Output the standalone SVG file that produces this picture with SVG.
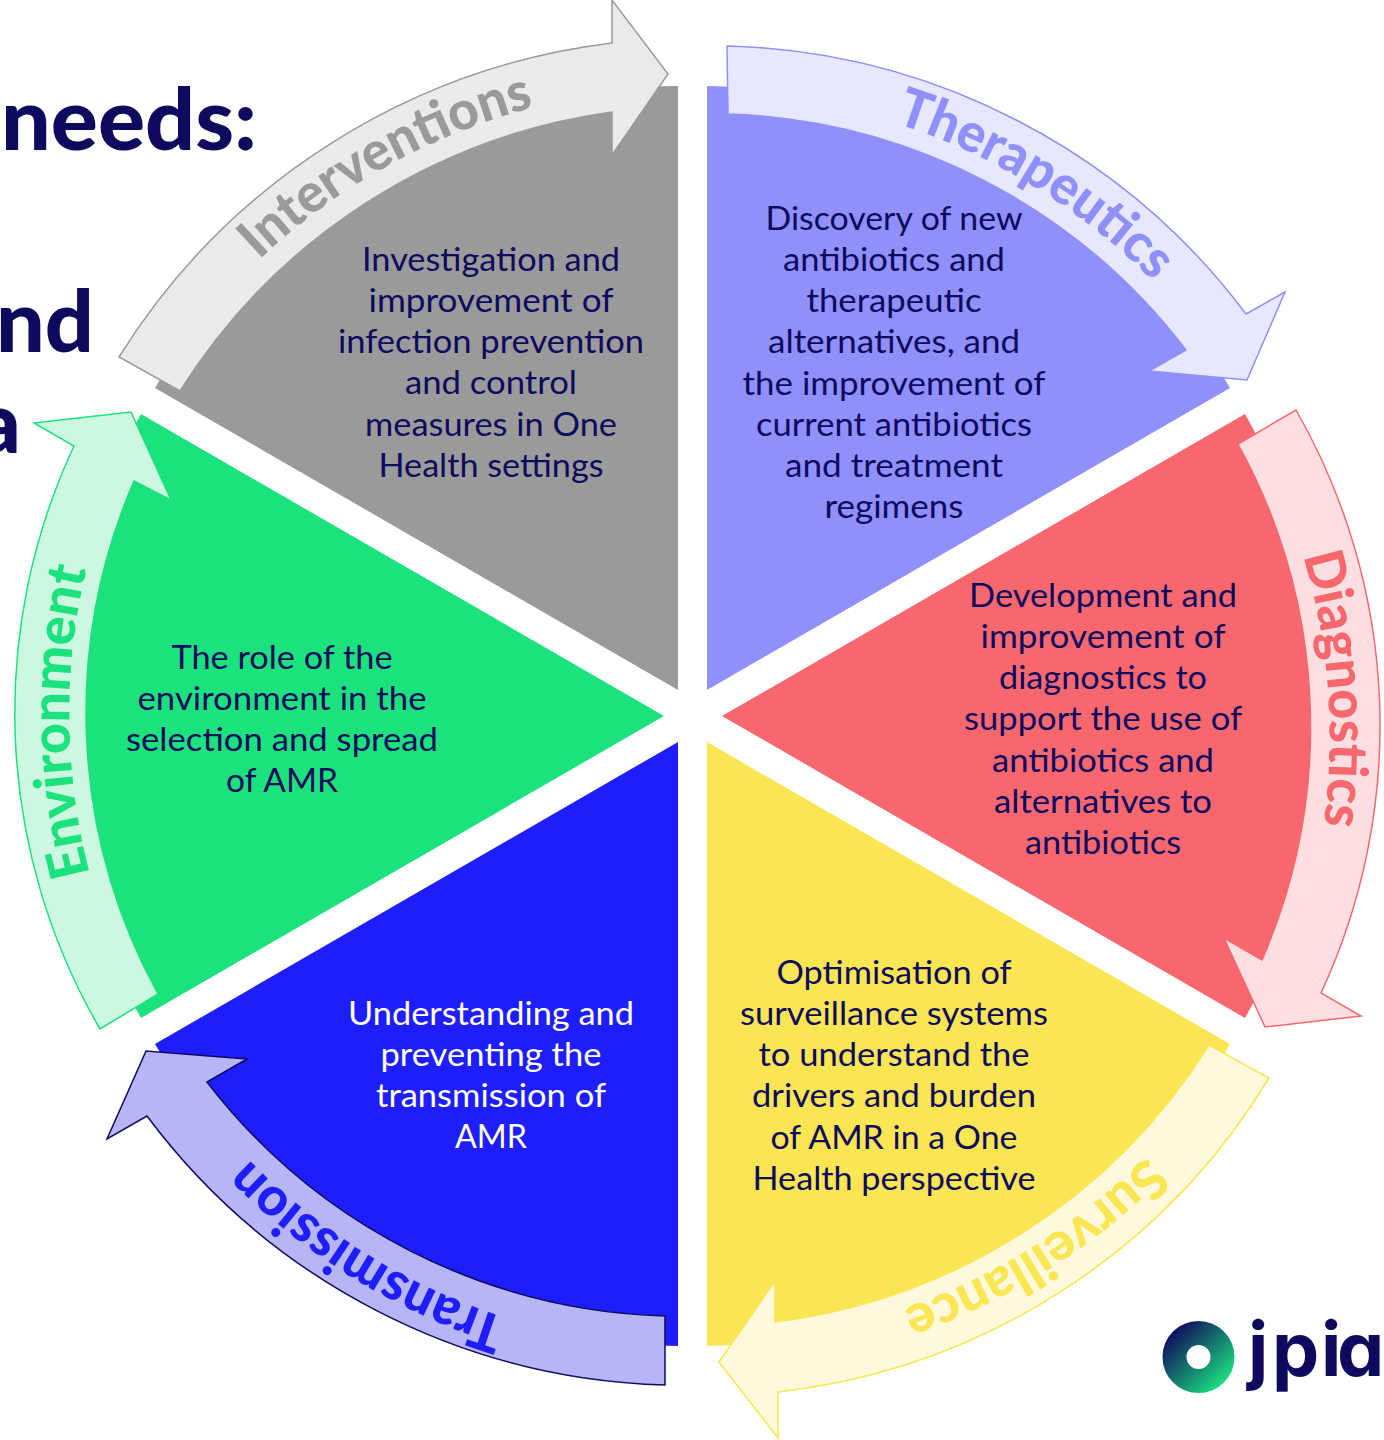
<svg xmlns="http://www.w3.org/2000/svg" width="1384" height="1440" viewBox="0 0 1384 1440">
<style>
.b{font-family:Lato,"Liberation Sans",sans-serif;font-size:32px;fill:#0e0a5e;text-anchor:middle}
.w{fill:#fff}
.l{font-family:Lato,"Liberation Sans",sans-serif;font-size:54px;font-weight:900}
.t{font-family:Lato,"Liberation Sans",sans-serif;font-size:86px;font-weight:900;fill:#0e0a5e}
.ar{stroke-width:1.5;stroke-linejoin:miter}
</style>
<defs>
<linearGradient id="lg" gradientUnits="userSpaceOnUse" x1="1172" y1="1330" x2="1225" y2="1384"><stop offset="0" stop-color="#0e0a5e"/><stop offset="1" stop-color="#1ce27e"/></linearGradient>
<path id="p1" d="M259,260 A629 629 0 0 1 548,104"/>
<path id="p2" d="M895,123 A632 632 0 0 1 1168,297"/>
<path id="p3" d="M1303,556 A630 630 0 0 1 1322,835"/>
<path id="p4" d="M1146,1156 A630 630 0 0 1 890,1313"/>
<path id="p5" d="M507,1318 A626 626 0 0 1 235,1145"/>
<path id="p6" d="M90,874 A625 625 0 0 1 90,555"/>
</defs>
<rect width="1384" height="1440" fill="#fff"/>
<g id="title">
<text class="t" x="1" y="150" textLength="256" lengthAdjust="spacingAndGlyphs">needs:</text>
<text class="t" x="-4" y="352" textLength="98" lengthAdjust="spacingAndGlyphs">nd</text>
<text class="t" x="-24" y="453" textLength="45" lengthAdjust="spacingAndGlyphs">a</text>
</g>
<g id="node-interventions">
<path fill="#9a9a9a" d="M678,690 L678,86 A604 604 0 0 0 155,388 Z"/>
<text class="b" x="491" y="271" textLength="258" lengthAdjust="spacingAndGlyphs">Investigation and</text>
<text class="b" x="491" y="312" textLength="245" lengthAdjust="spacingAndGlyphs">improvement of</text>
<text class="b" x="491" y="353" textLength="306" lengthAdjust="spacingAndGlyphs">infection prevention</text>
<text class="b" x="491" y="394" textLength="172" lengthAdjust="spacingAndGlyphs">and control</text>
<text class="b" x="491" y="436" textLength="252" lengthAdjust="spacingAndGlyphs">measures in One</text>
<text class="b" x="491" y="477" textLength="225" lengthAdjust="spacingAndGlyphs">Health settings</text>
</g>
<g id="node-therapeutics">
<path fill="#9090fb" d="M707,690 L707,86 A604 604 0 0 1 1230,388 Z"/>
<text class="b" x="894" y="230" textLength="257" lengthAdjust="spacingAndGlyphs">Discovery of new</text>
<text class="b" x="894" y="271" textLength="222" lengthAdjust="spacingAndGlyphs">antibiotics and</text>
<text class="b" x="894" y="312" textLength="175" lengthAdjust="spacingAndGlyphs">therapeutic</text>
<text class="b" x="894" y="353" textLength="252" lengthAdjust="spacingAndGlyphs">alternatives, and</text>
<text class="b" x="894" y="395" textLength="303" lengthAdjust="spacingAndGlyphs">the improvement of</text>
<text class="b" x="894" y="436" textLength="276" lengthAdjust="spacingAndGlyphs">current antibiotics</text>
<text class="b" x="894" y="477" textLength="218" lengthAdjust="spacingAndGlyphs">and treatment</text>
<text class="b" x="894" y="518" textLength="139" lengthAdjust="spacingAndGlyphs">regimens</text>
</g>
<g id="node-diagnostics">
<path fill="#f7686e" d="M722,716 L1245,414 A604 604 0 0 1 1245,1018 Z"/>
<text class="b" x="1103" y="607" textLength="268" lengthAdjust="spacingAndGlyphs">Development and</text>
<text class="b" x="1103" y="648" textLength="245" lengthAdjust="spacingAndGlyphs">improvement of</text>
<text class="b" x="1103" y="689" textLength="208" lengthAdjust="spacingAndGlyphs">diagnostics to</text>
<text class="b" x="1103" y="730" textLength="278" lengthAdjust="spacingAndGlyphs">support the use of</text>
<text class="b" x="1103" y="772" textLength="222" lengthAdjust="spacingAndGlyphs">antibiotics and</text>
<text class="b" x="1103" y="813" textLength="218" lengthAdjust="spacingAndGlyphs">alternatives to</text>
<text class="b" x="1103" y="854" textLength="156" lengthAdjust="spacingAndGlyphs">antibiotics</text>
</g>
<g id="node-surveillance">
<path fill="#f9e652" d="M707,742 L1230,1044 A604 604 0 0 1 707,1346 Z"/>
<text class="b" x="894" y="984" textLength="235" lengthAdjust="spacingAndGlyphs">Optimisation of</text>
<text class="b" x="894" y="1025" textLength="308" lengthAdjust="spacingAndGlyphs">surveillance systems</text>
<text class="b" x="894" y="1066" textLength="271" lengthAdjust="spacingAndGlyphs">to understand the</text>
<text class="b" x="894" y="1107" textLength="284" lengthAdjust="spacingAndGlyphs">drivers and burden</text>
<text class="b" x="894" y="1149" textLength="247" lengthAdjust="spacingAndGlyphs">of AMR in a One</text>
<text class="b" x="894" y="1190" textLength="283" lengthAdjust="spacingAndGlyphs">Health perspective</text>
</g>
<g id="node-transmission">
<path fill="#1e1efd" d="M678,742 L678,1346 A604 604 0 0 1 155,1044 Z"/>
<text class="b w" x="491" y="1025" textLength="286" lengthAdjust="spacingAndGlyphs">Understanding and</text>
<text class="b w" x="491" y="1066" textLength="221" lengthAdjust="spacingAndGlyphs">preventing the</text>
<text class="b w" x="491" y="1107" textLength="230" lengthAdjust="spacingAndGlyphs">transmission of</text>
<text class="b w" x="491" y="1148" textLength="72" lengthAdjust="spacingAndGlyphs">AMR</text>
</g>
<g id="node-environment">
<path fill="#1ce27e" d="M664,716 L141,1018 A604 604 0 0 1 141,414 Z"/>
<text class="b" x="282" y="669" textLength="221" lengthAdjust="spacingAndGlyphs">The role of the</text>
<text class="b" x="282" y="710" textLength="289" lengthAdjust="spacingAndGlyphs">environment in the</text>
<text class="b" x="282" y="751" textLength="312" lengthAdjust="spacingAndGlyphs">selection and spread</text>
<text class="b" x="282" y="792" textLength="112" lengthAdjust="spacingAndGlyphs">of AMR</text>
</g>
<g id="connectors">
<g id="arrow-interventions">
<path class="ar" fill="#eaeaea" stroke="#9a9a9a" d="M119,357 A677 677 0 0 1 612,43 L612,0 L668,74 L612,155 L612,112 A608 608 0 0 0 180,391 Z"/>
<text class="l" fill="#9a9a9a"><textPath href="#p1" textLength="318" lengthAdjust="spacingAndGlyphs">Interventions</textPath></text>
</g>
<g id="arrow-therapeutics">
<path class="ar" fill="#e7e7fd" stroke="#9090fb" d="M727,46 A670 670 0 0 1 1246,314 L1285,292 L1247,380 L1149,371 L1186,350 A600 600 0 0 0 728,114 Z"/>
<text class="l" fill="#9090fb"><textPath href="#p2" textLength="306" lengthAdjust="spacingAndGlyphs">Therapeutics</textPath></text>
</g>
<g id="arrow-diagnostics">
<path class="ar" fill="#fddfe1" stroke="#f7686e" d="M1296,410 A635 635 0 0 1 1321,993 L1361,1016 L1265,1027 L1224,938 L1262,960 A586 586 0 0 0 1238,444 Z"/>
<text class="l" fill="#f7686e"><textPath href="#p3" textLength="272" lengthAdjust="spacingAndGlyphs">Diagnostics</textPath></text>
</g>
<g id="arrow-surveillance">
<path class="ar" fill="#fef9dc" stroke="#f9e652" d="M1269,1078 A660 660 0 0 1 778,1392 L778,1438 L719,1362 L775,1281 L775,1322 A600 600 0 0 0 1209,1045 Z"/>
<text class="l" fill="#f9e652"><textPath href="#p4" textLength="290" lengthAdjust="spacingAndGlyphs">Surveillance</textPath></text>
</g>
<g id="arrow-transmission">
<path class="ar" fill="#b6b6f7" stroke="#0e0a5e" d="M665,1385 A670 670 0 0 1 147,1116 L107,1139 L146,1051 L247,1059 L207,1082 A600 600 0 0 0 665,1316 Z"/>
<text class="l" fill="#1e1efd"><textPath href="#p5" textLength="306" lengthAdjust="spacingAndGlyphs">Transmission</textPath></text>
</g>
<g id="arrow-environment">
<path class="ar" fill="#ccf8e2" stroke="#1ce27e" d="M100,1029 A630 630 0 0 1 74,446 L34,423 L131,412 L171,500 L134,481 A585 585 0 0 0 158,994 Z"/>
<text class="l" fill="#1ce27e"><textPath href="#p6" textLength="308" lengthAdjust="spacingAndGlyphs">Environment</textPath></text>
</g>
</g>
<g id="logo">
<circle cx="1198.500" cy="1357" r="24" fill="none" stroke="url(#lg)" stroke-width="24"/>
<text x="1248 1272 1321 1337" y="1376" font-family="Inter,Lato,sans-serif" font-size="75" font-weight="700" fill="#0e0a5e" style="font-feature-settings:'cv11'">jpia</text>
</g>
</svg>
